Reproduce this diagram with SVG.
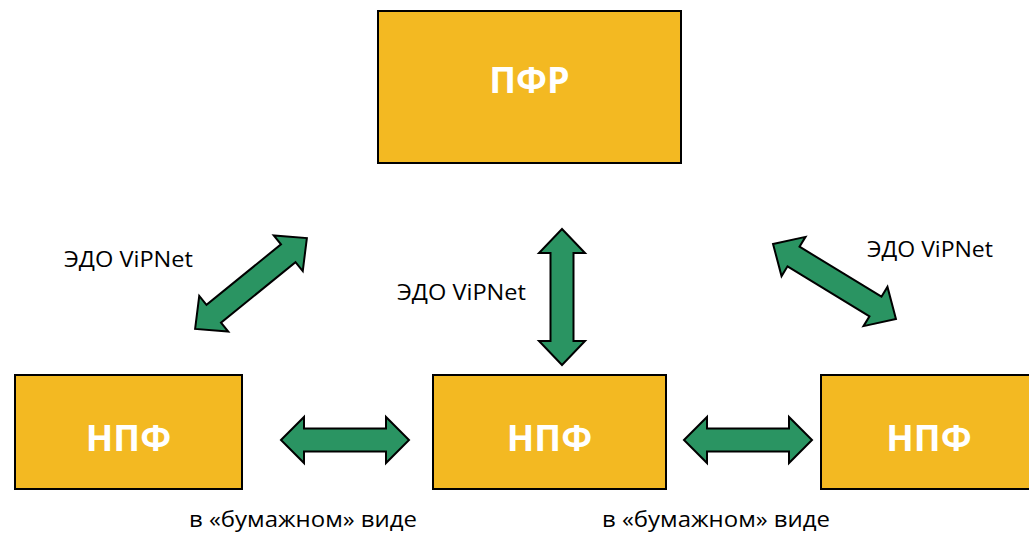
<svg xmlns="http://www.w3.org/2000/svg" width="1029" height="533" viewBox="0 0 1029 533">
<defs>
<style>
.box{fill:#F3B922;stroke:#000;stroke-width:2}
.title{font-family:"Open Sans",sans-serif;font-weight:700;font-size:36px;fill:#fff;text-anchor:middle}
.lbl{font-family:"Open Sans",sans-serif;font-size:21px;fill:#000;text-anchor:middle}
.arr{fill:#2A9462;stroke:#000;stroke-width:2;stroke-linejoin:miter}
</style>
</defs>
<rect width="1029" height="533" fill="#fff"/>
<g id="pfr"><rect class="box" x="378" y="11" width="303" height="152"/><text class="title" x="529.5" y="93">ПФР</text></g>
<g id="npf1"><rect class="box" x="15" y="375" width="227" height="114"/><text class="title" x="128.5" y="451">НПФ</text></g>
<g id="npf2"><rect class="box" x="433" y="375" width="233" height="114"/><text class="title" x="549.5" y="451">НПФ</text></g>
<g id="npf3"><rect class="box" x="821" y="375" width="220" height="114"/><text class="title" x="929" y="451">НПФ</text></g>
<g id="connectors">
<polygon class="arr" transform="translate(251,283.5) rotate(-39.1)" points="-72,0 -48,-23 -48,-11.5 48,-11.5 48,-23 72,0 48,23 48,11.5 -48,11.5 -48,23"/>
<polygon class="arr" transform="translate(562,297) rotate(90)" points="-68,0 -44,-23 -44,-11.5 44,-11.5 44,-23 68,0 44,23 44,11.5 -44,11.5 -44,23"/>
<polygon class="arr" transform="translate(834.5,281.5) rotate(31.4)" points="-72,0 -48,-23 -48,-11.5 48,-11.5 48,-23 72,0 48,23 48,11.5 -48,11.5 -48,23"/>
<polygon class="arr" transform="translate(345,440)" points="-64,0 -41,-23 -41,-11.5 41,-11.5 41,-23 64,0 41,23 41,11.5 -41,11.5 -41,23"/>
<polygon class="arr" transform="translate(748,440)" points="-64,0 -41,-23 -41,-11.5 41,-11.5 41,-23 64,0 41,23 41,11.5 -41,11.5 -41,23"/>
</g>
<text class="lbl" x="128.5" y="267" textLength="129" lengthAdjust="spacingAndGlyphs">ЭДО ViPNet</text>
<text class="lbl" x="461.5" y="300" textLength="129" lengthAdjust="spacingAndGlyphs">ЭДО ViPNet</text>
<text class="lbl" x="930" y="257" textLength="126" lengthAdjust="spacingAndGlyphs">ЭДО ViPNet</text>
<text class="lbl" x="303" y="527" textLength="228" lengthAdjust="spacingAndGlyphs">в «бумажном» виде</text>
<text class="lbl" x="716" y="527" textLength="228" lengthAdjust="spacingAndGlyphs">в «бумажном» виде</text>
</svg>
